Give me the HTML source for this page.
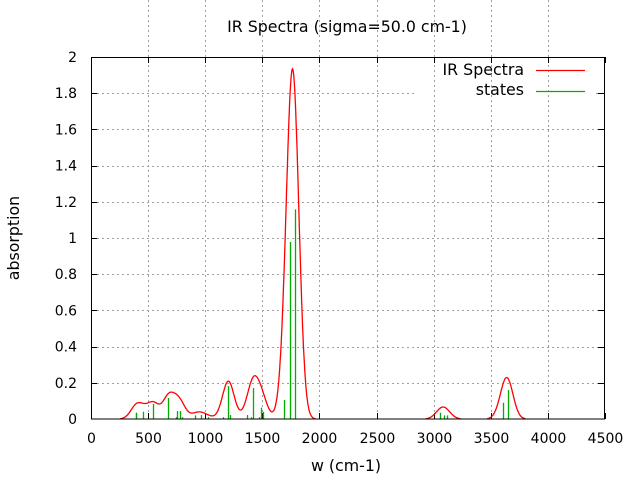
<!DOCTYPE html><html><head><style>body{margin:0;background:#fff}svg text{font-family:"DejaVu Sans","Liberation Sans",sans-serif;font-size:14px;fill:#000}svg text.b{font-size:15.8px}</style></head><body>
<svg id="s" width="640" height="480" xmlns="http://www.w3.org/2000/svg">
<g id="grid" stroke="#a0a0a0" stroke-dasharray="2,3" stroke-width="1"></g>
<g id="ticks" stroke="#000"></g>
<g id="lbl"></g>
<g id="sticks" stroke="#00b000" stroke-width="1.3"></g>
<path id="curve" fill="none" stroke="#ff0000" stroke-width="1.3"/>
<rect x="91.5" y="57.5" width="513" height="361.5" fill="none" stroke="#000"/>
<text class="b" x="347" y="32" text-anchor="middle">IR Spectra (sigma=50.0 cm-1)</text>
<text class="b" x="346" y="471" text-anchor="middle">w (cm-1)</text>
<text class="b" transform="translate(19,238) rotate(-90)" text-anchor="middle">absorption</text>
<text class="b" x="524" y="75" text-anchor="end">IR Spectra</text>
<text class="b" x="524" y="95" text-anchor="end">states</text>
<line x1="536" y1="70.5" x2="585" y2="70.5" stroke="#f00" stroke-width="1.3"/>
<line x1="536" y1="91.5" x2="585" y2="91.5" stroke="#00b000" stroke-width="1.3"/>
</svg>
<script>
var X=w=>91+w*0.11422,Y=v=>419-v*181;
var g=document.getElementById('grid'),t=document.getElementById('ticks'),l=document.getElementById('lbl'),ns='http://www.w3.org/2000/svg';
function el(p,n,a,tx){var e=document.createElementNS(ns,n);for(var k in a)e.setAttribute(k,a[k]);if(tx!=null)e.textContent=tx;p.appendChild(e);}
for(var i=1;i<=9;i++){var v=i*0.2,y=Math.round(Y(v))+0.5;
 if(y<100) {el(g,'line',{x1:92,y1:y,x2:416,y2:y});el(g,'line',{x1:596,y1:y,x2:604,y2:y});}
 else el(g,'line',{x1:92,y1:y,x2:604,y2:y});
 el(t,'line',{x1:91,y1:y,x2:97,y2:y});el(t,'line',{x1:604,y1:y,x2:598,y2:y});}
for(var i=0;i<=10;i++){var v=i*0.2,y=Y(v);el(l,'text',{x:77,y:y+5,'text-anchor':'end'},i==0?'0':i==5?'1':i==10?'2':v.toFixed(1));}
for(var i=0;i<=9;i++){var x=Math.round(X(i*500))+0.5;
 if(i>0&&i<9){var top=(x>420)?104:58;el(g,'line',{x1:x,y1:top,x2:x,y2:418});}
 el(t,'line',{x1:x,y1:419,x2:x,y2:413});el(t,'line',{x1:x,y1:57,x2:x,y2:63});
 el(l,'text',{x:x,y:443,'text-anchor':'middle'},String(i*500));}
var S=[[391,.031],[396,.035],[458,.04],[546,.083],[677,.116],[741,.01],[756,.044],[782,.044],[800,.01],[913,.02],[966,.022],[1027,.01],[1153,.01],[1202,.182],[1220,.022],[1369,.022],[1404,.01],[1421,.171],[1471,.01],[1491,.063],[1503,.04],[1692,.105],[1745,.978],[1783,1.158],[3058,.035],[3093,.02],[3117,.02],[3610,.09],[3654,.16]];
var sg=document.getElementById('sticks');
S.forEach(s=>{var x=Math.round(X(s[0]))+0.5;el(sg,'line',{x1:x,y1:419,x2:x,y2:Y(s[1])});});
var d='',on=false;
for(var w=200;w<=3900;w+=4){var v=0;S.forEach(s=>{var k=(w-s[0])/50;v+=s[1]*Math.exp(-k*k/2)*(s[0]>1700&&s[0]<1800?0.955:1);});
 if(v<0.0015){on=false;continue;}
 d+=(on?'L':'M')+X(w).toFixed(1)+','+Y(v).toFixed(1);on=true;}
document.getElementById('curve').setAttribute('d',d);
</script>
</body></html>
